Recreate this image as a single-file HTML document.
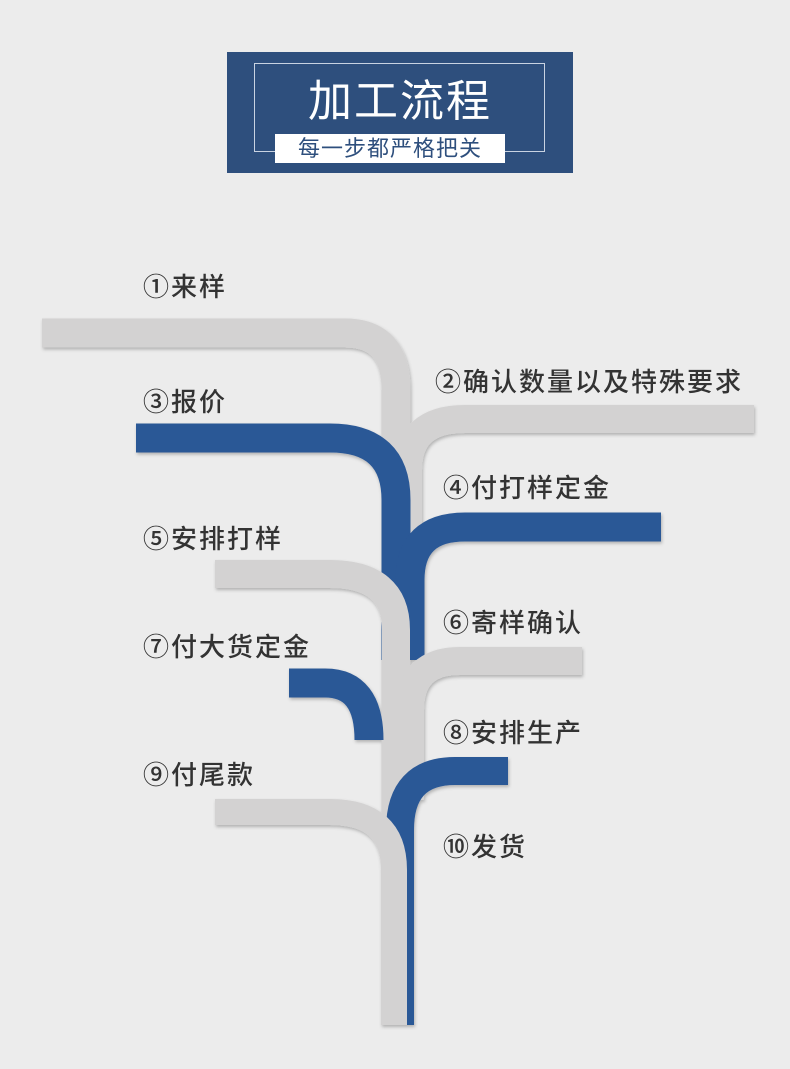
<!DOCTYPE html>
<html><head><meta charset="utf-8"><style>
body{margin:0;width:790px;height:1069px;background:#ececec;position:relative;overflow:hidden;font-family:"Liberation Sans","Noto Sans CJK SC",sans-serif}
.t{position:absolute;font-size:26px;color:#333;letter-spacing:2px;line-height:30px;white-space:nowrap;font-weight:500}
</style></head><body>
<div style="position:absolute;left:227px;top:52px;width:346px;height:121px;background:#2e4f7d"></div>
<div style="position:absolute;left:254px;top:63px;width:291px;height:89px;border:1px solid #c9d3e2;box-sizing:border-box"></div>
<div style="position:absolute;left:227px;top:74px;width:346px;text-align:center;color:#fff;font-size:44px;line-height:56px;letter-spacing:2px">加工流程</div>
<div style="position:absolute;left:275px;top:134px;width:230px;height:29px;background:#fff;color:#2e4f7d;font-size:22px;line-height:29px;text-align:center;letter-spacing:1px">每一步都严格把关</div>
<svg width="790" height="1069" style="position:absolute;left:0;top:0">
<defs><filter id="s" x="-10%" y="-10%" width="120%" height="120%"><feDropShadow dx="1" dy="2" stdDeviation="1.5" flood-color="#000" flood-opacity="0.25"/></filter></defs>
<g fill="none" stroke-linecap="butt" filter="url(#s)">
<path d="M42,333 H345 Q396,333 396,390 V1025" stroke="#d3d2d2" stroke-width="29"/>
<path d="M754,419 H465 Q408,419 408,470 V560" stroke="#d3d2d2" stroke-width="28"/>
<path d="M136,438 H330 Q396,438 396,500 V660" stroke="#2c5896" stroke-width="29"/>
<path d="M661,527 H465 Q410,527 410,580 V660" stroke="#2c5896" stroke-width="29"/>
<path d="M215,574 H330 Q396,574 396,630 V800" stroke="#d3d2d2" stroke-width="28"/>
<path d="M582,661 H460 Q410,661 410,710 V800" stroke="#d3d2d2" stroke-width="28"/>
<path d="M289,683 H325 Q369,683 369,740" stroke="#2c5896" stroke-width="29"/>
<path d="M508,771 H455 Q400,771 400,830 V1025" stroke="#2c5896" stroke-width="28"/>
<path d="M215,812 H330 Q394,812 394,870 V1025" stroke="#d3d2d2" stroke-width="26"/>
</g></svg>
<div class="t" style="left:143px;top:272px">①来样</div>
<div class="t" style="left:435px;top:367px">②确认数量以及特殊要求</div>
<div class="t" style="left:143px;top:387px">③报价</div>
<div class="t" style="left:443px;top:473px">④付打样定金</div>
<div class="t" style="left:143px;top:524px">⑤安排打样</div>
<div class="t" style="left:443px;top:608px">⑥寄样确认</div>
<div class="t" style="left:143px;top:632px">⑦付大货定金</div>
<div class="t" style="left:443px;top:718px">⑧安排生产</div>
<div class="t" style="left:143px;top:760px">⑨付尾款</div>
<div class="t" style="left:443px;top:832px">⑩发货</div>
</body></html>
